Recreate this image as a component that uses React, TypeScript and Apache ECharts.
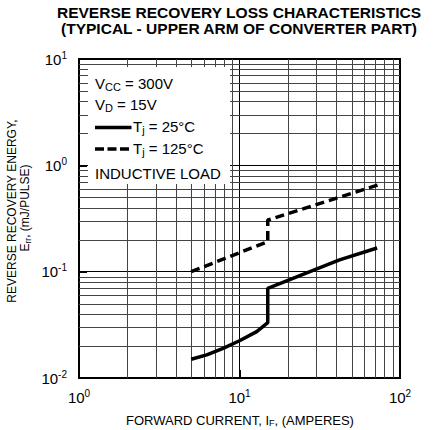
import React, { useEffect, useRef } from "react";
import * as echarts from "echarts";

// ---- data ----
const xTickExponents = [0, 1, 2];
const yTickExponents = [-2, -1, 0, 1];

const current25 = [5, 6.25, 7.9, 10, 12.8, 15, 15, 42, 72];
const energy25 = [0.015, 0.0165, 0.019, 0.0224, 0.0273, 0.0331, 0.0698, 0.129, 0.167];

const current125 = [5, 15, 15, 73];
const energy125 = [0.1, 0.1916, 0.306, 0.654];

const minorGridX = [2, 3, 4, 5, 6, 7, 8, 9, 20, 30, 40, 50, 60, 70, 80, 90];
const minorGridY = [
  0.02, 0.03, 0.04, 0.05, 0.06, 0.07, 0.08, 0.09,
  0.2, 0.3, 0.4, 0.5, 0.6, 0.7, 0.8, 0.9,
  2, 3, 4, 5, 6, 7, 8, 9,
];

const titleLines = [
  "REVERSE RECOVERY LOSS CHARACTERISTICS",
  "(TYPICAL - UPPER ARM OF CONVERTER PART)",
];

const FONT = "'Liberation Sans', Arial, Helvetica, sans-serif";
const X_MIN = 1, X_MAX = 100, Y_MIN = 0.01, Y_MAX = 10;

function expLabel(exps: number[]) {
  return (v: number) => {
    const e = Math.round(Math.log10(v));
    const found = exps.find((x) => x === e);
    return found === undefined ? "" : `{b|10}{s|${found}}`;
  };
}

const labelRich = {
  b: { fontSize: 15, lineHeight: 18, color: "#000", fontFamily: FONT },
  s: { fontSize: 10, lineHeight: 10, verticalAlign: "top", color: "#000", fontFamily: FONT },
};

export default function App() {
  const ref = useRef<HTMLDivElement>(null);
  useEffect(() => {
    if (!ref.current) return;
    const chart = echarts.init(ref.current, undefined, { renderer: "svg" });

    const legendMain = { fontSize: 15, lineHeight: 18, fill: "#000", fontFamily: FONT };
    const legendSub = { fontSize: 11, lineHeight: 11, verticalAlign: "bottom", fill: "#000", fontFamily: FONT };

    const option: any = {
      animation: false,
      backgroundColor: "#fff",
      grid: {
        left: 79, right: 42, top: 59, bottom: 52,
        show: true, borderColor: "#000", borderWidth: 2, backgroundColor: "transparent",
      },
      xAxis: {
        type: "log", logBase: 10, min: X_MIN, max: X_MAX,
        axisLine: { show: true, lineStyle: { color: "#000", width: 2 } },
        axisTick: { show: true, inside: true, length: 8, lineStyle: { color: "#000", width: 2 } },
        splitLine: { show: true, lineStyle: { color: "#000", width: 1 } },
        axisLabel: { formatter: expLabel(xTickExponents), rich: labelRich, margin: 10 },
      },
      yAxis: {
        type: "log", logBase: 10, min: Y_MIN, max: Y_MAX,
        axisLine: { show: true, lineStyle: { color: "#000", width: 2 } },
        axisTick: { show: true, inside: true, length: 8, lineStyle: { color: "#000", width: 2 } },
        splitLine: { show: true, lineStyle: { color: "#000", width: 1 } },
        axisLabel: { formatter: expLabel(yTickExponents), rich: labelRich, margin: 12 },
      },
      series: [
        {
          type: "custom",
          z: 1,
          silent: true,
          data: minorGridX.map((x) => [x, 1]),
          renderItem: (params: any, api: any) => {
            const x = api.value(0);
            const p1 = api.coord([x, Y_MIN]);
            const p2 = api.coord([x, Y_MAX]);
            const px = Math.round(p1[0]) + 0.5;
            return {
              type: "line",
              shape: { x1: px, y1: p1[1], x2: px, y2: p2[1] },
              style: { stroke: "#444", lineWidth: 1 },
            };
          },
        },
        {
          type: "custom",
          z: 1,
          silent: true,
          data: minorGridY.map((y) => [2, y]),
          renderItem: (params: any, api: any) => {
            const y = api.value(1);
            const p1 = api.coord([X_MIN, y]);
            const p2 = api.coord([X_MAX, y]);
            const py = Math.round(p1[1]) + 0.5;
            return {
              type: "line",
              shape: { x1: p1[0], y1: py, x2: p2[0], y2: py },
              style: { stroke: "#444", lineWidth: 1 },
            };
          },
        },
        {
          type: "line",
          z: 5,
          symbol: "none",
          data: current25.map((x, i) => [x, energy25[i]]),
          lineStyle: { color: "#000", width: 3.5 },
        },
        {
          type: "line",
          z: 5,
          symbol: "none",
          data: current125.map((x, i) => [x, energy125[i]]),
          lineStyle: { color: "#000", width: 3.5, type: [9, 5] },
        },
      ],
      graphic: [
        { type: "rect", z: 100, shape: { x: 88, y: 67, width: 142, height: 117 }, style: { fill: "#fff" } },
        {
          type: "text", z: 101, x: 95, y: 83,
          style: { text: "{a|V}{s|CC}{a| = 300V}", rich: { a: legendMain, s: legendSub }, align: "left", verticalAlign: "middle" },
        },
        {
          type: "text", z: 101, x: 95, y: 104.5,
          style: { text: "{a|V}{s|D}{a| = 15V}", rich: { a: legendMain, s: legendSub }, align: "left", verticalAlign: "middle" },
        },
        { type: "line", z: 101, shape: { x1: 95, y1: 127.5, x2: 131.5, y2: 127.5 }, style: { stroke: "#000", lineWidth: 3.5 } },
        {
          type: "text", z: 101, x: 133, y: 126.5,
          style: { text: "{a|T}{s|j}{a| = 25°C}", rich: { a: legendMain, s: legendSub }, align: "left", verticalAlign: "middle" },
        },
        { type: "line", z: 101, shape: { x1: 95, y1: 149, x2: 131.5, y2: 149 }, style: { stroke: "#000", lineWidth: 3.5, lineDash: [9, 3.5] } },
        {
          type: "text", z: 101, x: 133, y: 148,
          style: { text: "{a|T}{s|j}{a| = 125°C}", rich: { a: legendMain, s: legendSub }, align: "left", verticalAlign: "middle" },
        },
        {
          type: "text", z: 101, x: 95, y: 173,
          style: { text: "INDUCTIVE LOAD", fill: "#000", font: `15px ${FONT}`, align: "left", verticalAlign: "middle" },
        },
        {
          type: "text", z: 101, x: 239, y: 13.5, scaleX: 1.11,
          style: { text: titleLines[0], fill: "#000", font: `bold 14px ${FONT}`, align: "center", verticalAlign: "middle" },
        },
        {
          type: "text", z: 101, x: 239, y: 29.5, scaleX: 1.11,
          style: { text: titleLines[1], fill: "#000", font: `bold 14px ${FONT}`, align: "center", verticalAlign: "middle" },
        },
        {
          type: "text", z: 101, x: 240, y: 420,
          style: {
            text: "{a|FORWARD CURRENT, I}{s|F}{a|, (AMPERES)}",
            rich: {
              a: { fontSize: 13, lineHeight: 15, fill: "#000", fontFamily: FONT },
              s: { fontSize: 9, lineHeight: 9, verticalAlign: "bottom", fill: "#000", fontFamily: FONT },
            },
            align: "center", verticalAlign: "middle",
          },
        },
        {
          type: "text", z: 101, x: 12, y: 211, rotation: Math.PI / 2,
          style: { text: "REVERSE RECOVERY ENERGY,", fill: "#000", font: `12px ${FONT}`, align: "center", verticalAlign: "middle" },
        },
        {
          type: "text", z: 101, x: 25, y: 208, rotation: Math.PI / 2,
          style: {
            text: "{a|E}{s|rr}{a|, (mJ/PULSE)}",
            rich: {
              a: { fontSize: 12, lineHeight: 14, fill: "#000", fontFamily: FONT },
              s: { fontSize: 8.5, lineHeight: 8, verticalAlign: "bottom", fill: "#000", fontFamily: FONT },
            },
            align: "center", verticalAlign: "middle",
          },
        },
      ],
    };
    chart.setOption(option);
    return () => chart.dispose();
  }, []);
  return <div ref={ref} style={{ width: 442, height: 430, position: "absolute", left: 0, top: 0 }} />;
}
